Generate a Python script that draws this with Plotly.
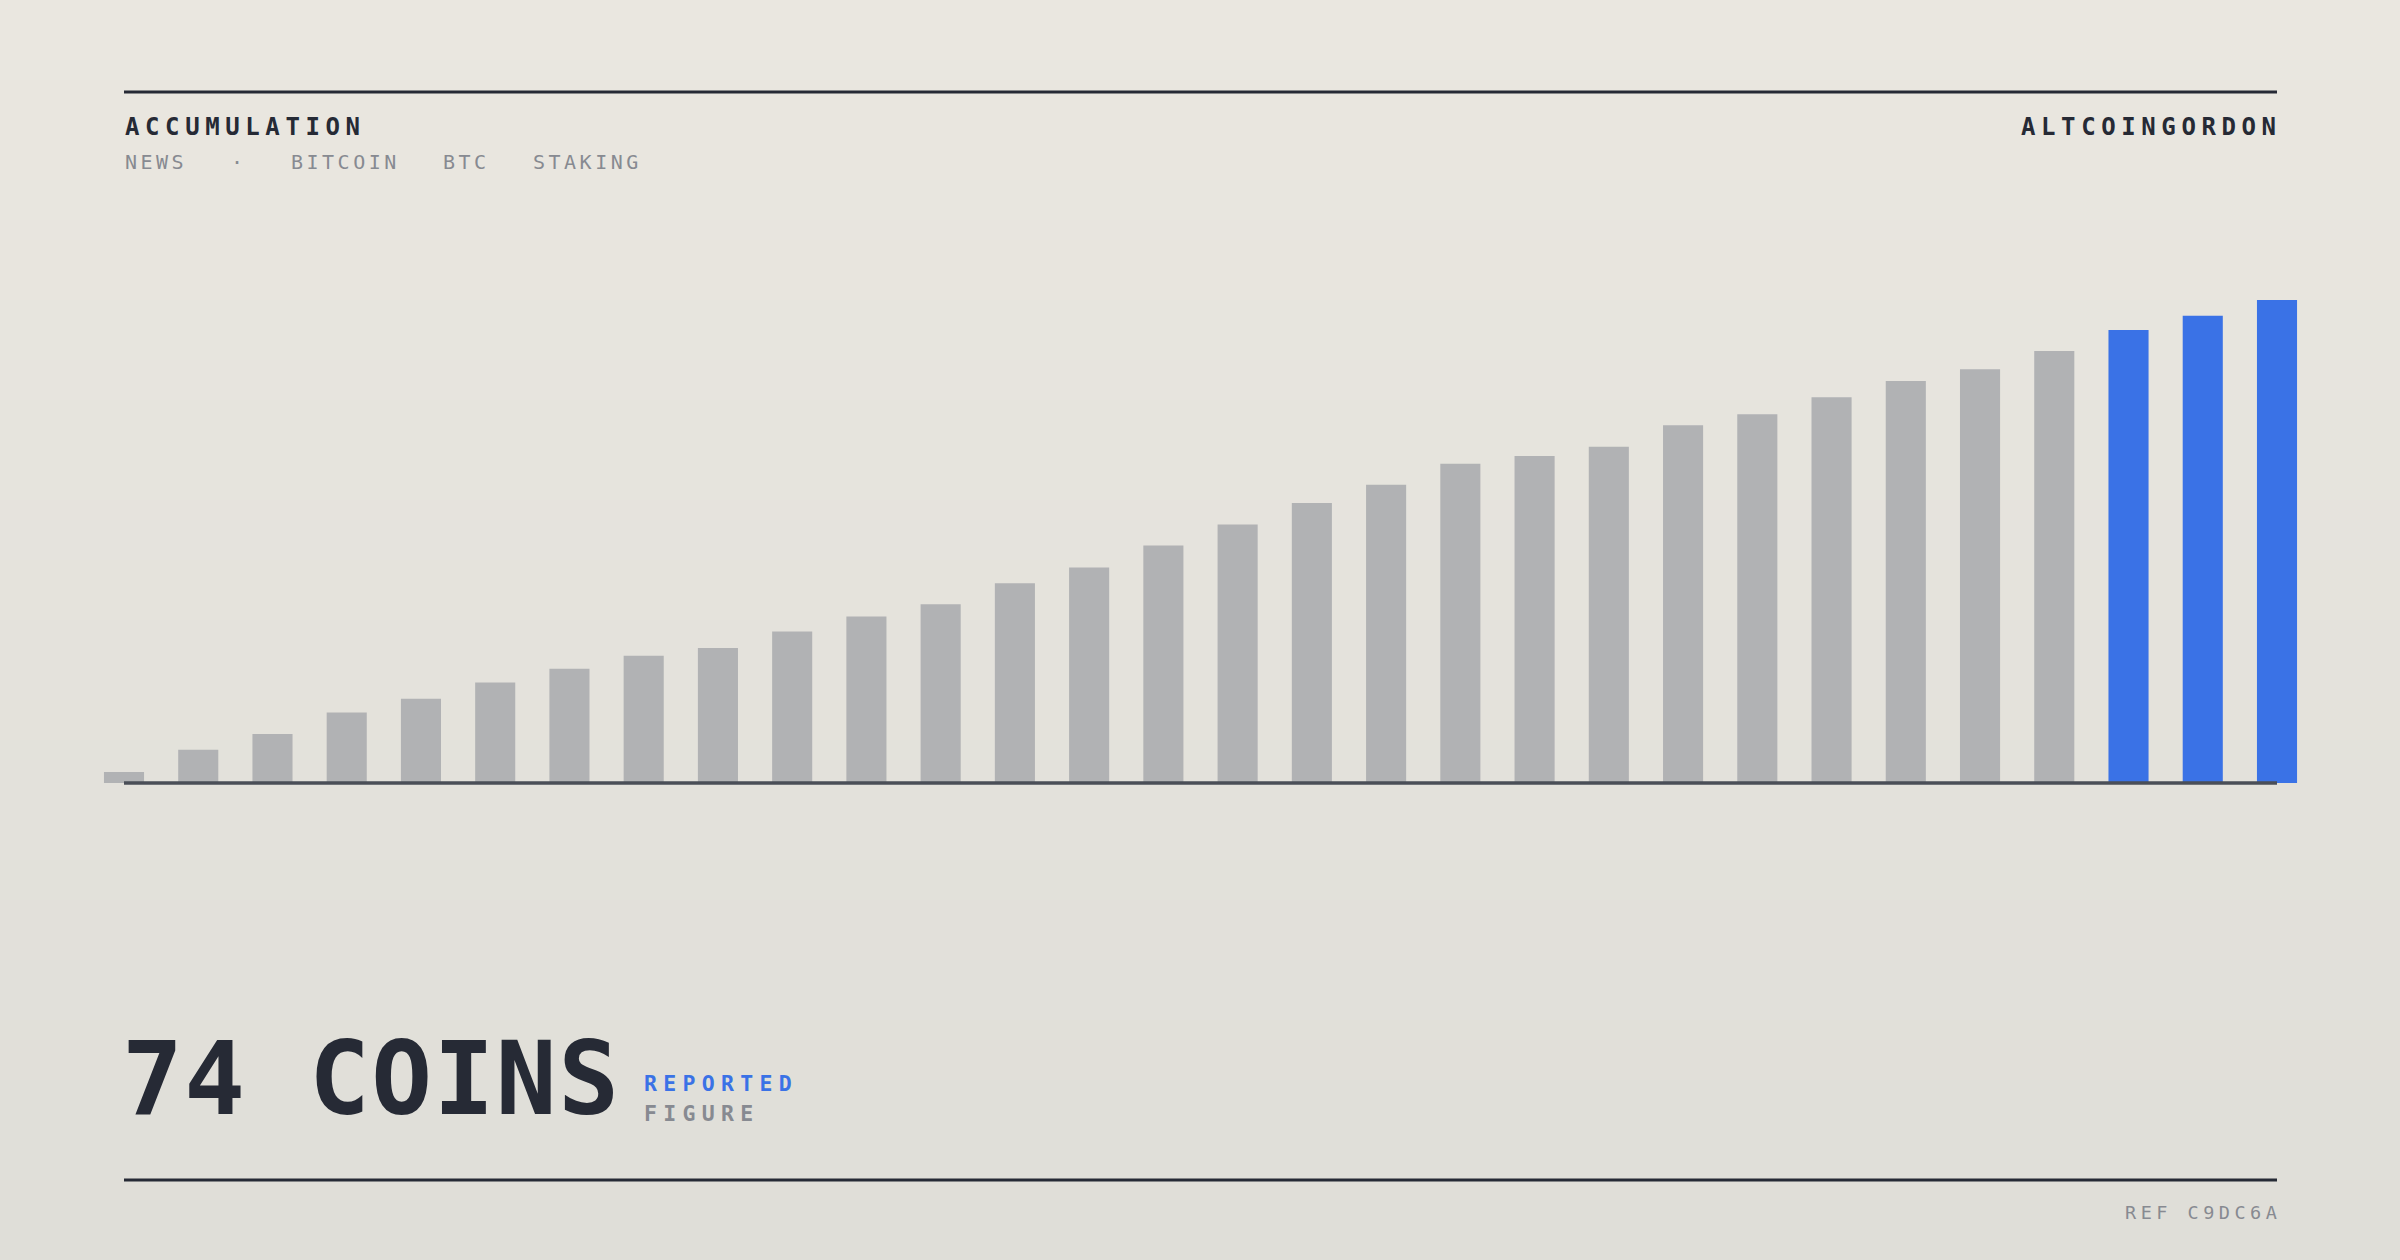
import plotly.graph_objects as go

# ---------------- data ----------------
periods = list(range(1, 31))
coins = [1.7, 5.1, 7.5, 10.8, 12.9, 15.4, 17.5, 19.5, 20.7, 23.2,
         25.5, 27.4, 30.6, 33.0, 36.4, 39.6, 42.9, 45.7, 48.9, 50.1,
         51.5, 54.8, 56.5, 59.1, 61.6, 63.4, 66.2, 69.4, 71.6, 74.0]
highlight_last = 3

title_text = "ACCUMULATION"
tags = ["NEWS", "·", "BITCOIN", "BTC", "STAKING"]
brand_text = "ALTCOINGORDON"
headline_value = "74"
headline_unit = "COINS"
badge_top = "REPORTED"
badge_bottom = "FIGURE"
ref_text = "REF C9DC6A"

# ---------------- style ----------------
W, H = 2400, 1260
DARK = "#262a35"
GRAY_TXT = "#878a91"
BAR_GRAY = "#b1b2b4"
BAR_BLUE = "#3a72e6"
AXIS = "#4a4e57"
MONO = "DejaVu Sans Mono"

def px(x):
    return x / W

def py(y):
    return 1 - y / H

def spaced(s, sp):
    return f'<span style="letter-spacing:{sp}px">{s}</span>'

colors = [BAR_GRAY] * (len(coins) - highlight_last) + [BAR_BLUE] * highlight_last

fig = go.Figure()
fig.add_trace(go.Bar(
    x=list(range(len(periods))), y=coins,
    marker=dict(color=colors, line=dict(width=0)),
    width=0.54, hoverinfo="skip", showlegend=False,
))

# background gradient bands
top_c = (234, 231, 224)
bot_c = (223, 222, 216)
n_bands = 63
shapes = []
for i in range(n_bands):
    t = i / (n_bands - 1)
    c = tuple(round(top_c[k] + (bot_c[k] - top_c[k]) * t) for k in range(3))
    shapes.append(dict(
        type="rect", xref="paper", yref="paper", layer="below",
        x0=0, x1=1, y0=1 - (i + 1) / n_bands - 0.001, y1=1 - i / n_bands,
        fillcolor=f"rgb{c}", line=dict(width=0),
    ))

# rules
shapes.append(dict(type="line", xref="paper", yref="paper",
                   x0=px(124), x1=px(2277), y0=py(92), y1=py(92),
                   line=dict(color=DARK, width=3)))
shapes.append(dict(type="line", xref="paper", yref="paper",
                   x0=px(124), x1=px(2277), y0=py(1180), y1=py(1180),
                   line=dict(color=DARK, width=3)))
# baseline
shapes.append(dict(type="line", xref="x", yref="y", layer="above",
                   x0=0, x1=len(coins) - 1, y0=0, y1=0,
                   line=dict(color=AXIS, width=3.5)))

ann = []
ann.append(dict(text="<b>" + spaced(title_text, 5.6) + "</b>",
                x=px(124), y=py(127), xanchor="left", yanchor="middle",
                align="left", font=dict(family=MONO, size=24, color=DARK)))
ann.append(dict(text="<b>" + spaced(brand_text, 5.6) + "</b>",
                x=px(2277 + 5.6), y=py(127), xanchor="right", yanchor="middle",
                align="right", font=dict(family=MONO, size=24, color=DARK)))

tag_x = [124, 230, 290, 442, 532]
for t, xx in zip(tags, tag_x):
    ann.append(dict(text=spaced(t, 3.5), x=px(xx), y=py(162),
                    xanchor="left", yanchor="middle", align="left",
                    font=dict(family=MONO, size=20, color=GRAY_TXT)))

ann.append(dict(text="<b>" + spaced(f"{headline_value} {headline_unit}", 1.5) + "</b>",
                x=px(121), y=py(1079), xanchor="left", yanchor="middle",
                align="left", font=dict(family=MONO, size=101, color=DARK)))
ann.append(dict(text="<b>" + spaced(badge_top, 6.3) + "</b>",
                x=px(643), y=py(1083), xanchor="left", yanchor="middle",
                align="left", font=dict(family=MONO, size=21.5, color=BAR_BLUE)))
ann.append(dict(text="<b>" + spaced(badge_bottom, 6.3) + "</b>",
                x=px(643), y=py(1113), xanchor="left", yanchor="middle",
                align="left", font=dict(family=MONO, size=21.5, color=GRAY_TXT)))
ann.append(dict(text=spaced(ref_text, 4.5),
                x=px(2277 + 4.5), y=py(1212), xanchor="right", yanchor="middle",
                align="right", font=dict(family=MONO, size=18.5, color=GRAY_TXT)))

for a in ann:
    a.update(xref="paper", yref="paper", showarrow=False, borderpad=0)

pitch = (2277 - 124) / (len(coins) - 1)
x_left = 124 - pitch / 2
x_right = 2277 + pitch / 2
y_min, y_max = -0.6, 80
unit_px = (783 - 300) / 74.0
y_top = 783 - y_max * unit_px
y_bot = 783 - y_min * unit_px

fig.update_layout(
    width=W, height=H,
    margin=dict(l=0, r=0, t=0, b=0),
    paper_bgcolor="rgb(229,227,220)",
    plot_bgcolor="rgba(0,0,0,0)",
    shapes=shapes, annotations=ann,
    xaxis=dict(domain=[px(x_left), px(x_right)], range=[-0.5, len(coins) - 0.5],
               visible=False, fixedrange=True),
    yaxis=dict(domain=[py(y_bot), py(y_top)], range=[y_min, y_max],
               visible=False, fixedrange=True),
    showlegend=False,
    hovermode=False,
)

page_fix = (
    "document.documentElement.style.margin='0';"
    "document.body.style.margin='0';"
    "document.body.style.padding='0';"
    "document.body.style.overflow='hidden';"
    "document.body.style.background='rgb(229,227,220)';"
)

fig.write_html("out.html", config={"displayModeBar": False, "staticPlot": True},
               post_script=page_fix)
